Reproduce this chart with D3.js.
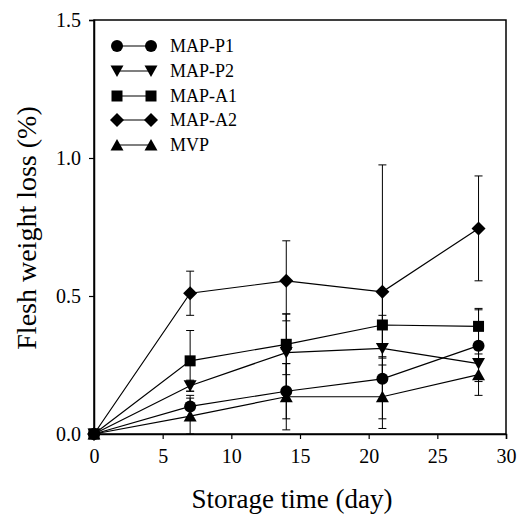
<!DOCTYPE html>
<html><head><meta charset="utf-8">
<script src="https://cdn.jsdelivr.net/npm/d3@7"></script>
<style>body{margin:0;background:#fff}svg{display:block}</style>
</head><body>
<script>
const days = [0, 7, 14, 21, 28];
const seriesNames = ["MAP-P1", "MAP-P2", "MAP-A1", "MAP-A2", "MVP"];
const symbolsUsed = ["circle", "triangleDown", "square", "diamond", "triangle"];
const mapP1 = [0, 0.10, 0.155, 0.20, 0.32];
const mapP1Err = [0, 0.04, 0.10, 0.08, 0.13];
const mapP2 = [0, 0.175, 0.295, 0.31, 0.255];
const mapP2Err = [0, 0.02, 0.14, 0.12, 0.05];
const mapA1 = [0, 0.265, 0.325, 0.395, 0.39];
const mapA1Err = [0, 0.11, 0.11, 0.12, 0.065];
const mapA2 = [0, 0.51, 0.555, 0.515, 0.745];
const mapA2Err = [0, 0.08, 0.145, 0.46, 0.19];
const mvp = [0, 0.065, 0.135, 0.135, 0.215];
const mvpErr = [0, 0.065, 0.12, 0.115, 0.075];
const xTicks = [0, 5, 10, 15, 20, 25, 30];
const yTicks = [0.0, 0.5, 1.0, 1.5];

const values = [mapP1, mapP2, mapA1, mapA2, mvp];
const errs = [mapP1Err, mapP2Err, mapA1Err, mapA2Err, mvpErr];

const W = 519, H = 517;
const svg = d3.select("body").append("svg").attr("width", W).attr("height", H);
const x = d3.scaleLinear().domain([0, 30]).range([94, 506]);
const y = d3.scaleLinear().domain([0, 1.5]).range([434, 20]);
const font = "'Liberation Serif', 'Times New Roman', serif";

svg.append("rect").attr("x", 94).attr("y", 20).attr("width", 412).attr("height", 414)
  .attr("fill", "none").attr("stroke", "#000").attr("stroke-width", 1.5);

const xAxis = svg.append("g").attr("transform", "translate(0,434)")
  .call(d3.axisBottom(x).tickValues(xTicks).tickSize(5).tickPadding(10).tickFormat(d3.format("d")));
const yAxis = svg.append("g").attr("transform", "translate(94,0)")
  .call(d3.axisLeft(y).tickValues(yTicks).tickSize(5).tickPadding(8).tickFormat(d3.format(".1f")));
[xAxis, yAxis].forEach(g => {
  g.select(".domain").attr("stroke-width", 1.5);
  g.selectAll(".tick line").attr("stroke-width", 1.2);
  g.selectAll("text").attr("font-family", font).attr("font-size", 20).attr("fill", "#000");
});

function symPath(name) {
  const p = d3.path();
  if (name === "circle") { p.arc(0, 0, 6, 0, 2 * Math.PI); }
  else if (name === "square") { p.rect(-5.5, -5.5, 11, 11); }
  else if (name === "diamond") { p.moveTo(0, -7); p.lineTo(7, 0); p.lineTo(0, 7); p.lineTo(-7, 0); p.closePath(); }
  else if (name === "triangle") { p.moveTo(0, -6); p.lineTo(6.5, 5.5); p.lineTo(-6.5, 5.5); p.closePath(); }
  else if (name === "triangleDown") { p.moveTo(0, 6); p.lineTo(6.5, -5.5); p.lineTo(-6.5, -5.5); p.closePath(); }
  return p.toString();
}
function drawSym(g, name, cx, cy) {
  g.append("path").attr("d", symPath(name)).attr("transform", `translate(${cx},${cy})`).attr("fill", "#000");
}

const line = d3.line().x((d, i) => x(days[i])).y(d => y(d));
const plot = svg.append("g");
values.forEach((vals, s) => {
  vals.forEach((v, i) => {
    const e = errs[s][i];
    if (e <= 0) return;
    const cx = x(days[i]);
    plot.append("line").attr("x1", cx).attr("x2", cx).attr("y1", y(v - e)).attr("y2", y(v + e))
      .attr("stroke", "#000").attr("stroke-width", 1);
    [v - e, v + e].forEach(t => plot.append("line").attr("x1", cx - 4).attr("x2", cx + 4)
      .attr("y1", y(t)).attr("y2", y(t)).attr("stroke", "#000").attr("stroke-width", 1));
  });
});
values.forEach((vals, s) => {
  plot.append("path").attr("d", line(vals)).attr("fill", "none").attr("stroke", "#000").attr("stroke-width", 1.2);
  vals.forEach((v, i) => drawSym(plot, symbolsUsed[s], x(days[i]), y(v)));
});

const leg = svg.append("g");
const legY = [46, 71, 96, 120, 145];
seriesNames.forEach((n, i) => {
  leg.append("line").attr("x1", 117).attr("x2", 151).attr("y1", legY[i]).attr("y2", legY[i])
    .attr("stroke", "#000").attr("stroke-width", 1.2);
  drawSym(leg, symbolsUsed[i], 117, legY[i]);
  drawSym(leg, symbolsUsed[i], 151, legY[i]);
  leg.append("text").attr("x", 170).attr("y", legY[i]).attr("dy", "0.35em")
    .attr("font-family", font).attr("font-size", 18).text(n);
});

svg.append("text").attr("x", 292).attr("y", 508).attr("text-anchor", "middle")
  .attr("font-family", font).attr("font-size", 27).text("Storage time (day)");
svg.append("text").attr("transform", "translate(36,228) rotate(-90)").attr("text-anchor", "middle")
  .attr("font-family", font).attr("font-size", 28).text("Flesh weight loss (%)");
</script>
</body></html>
